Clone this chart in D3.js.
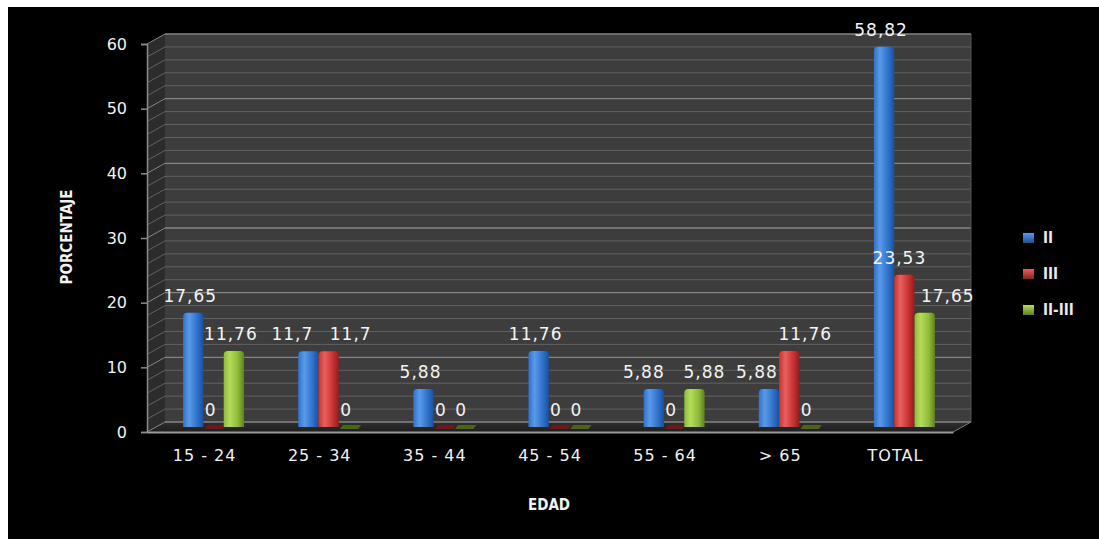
<!DOCTYPE html>
<html>
<head>
<meta charset="utf-8">
<script src="https://cdn.jsdelivr.net/npm/d3@7"></script>
<style>
  html, body { margin: 0; padding: 0; background: #ffffff; }
  svg { display: block; }
</style>
</head>
<body>
<svg id="chart" width="1099" height="539"></svg>
<script>
// Age groups and percentage per stage
const categories = ["15 - 24", "25 - 34", "35 - 44", "45 - 54", "55 - 64", "> 65", "TOTAL"];
const seriesNames = ["II", "III", "II-III"];
const valuesII    = [17.65, 11.7, 5.88, 11.76, 5.88, 5.88, 58.82];
const valuesIII   = [0, 11.7, 0, 0, 0, 11.76, 23.53];
const valuesIIIII = [11.76, 0, 0, 0, 5.88, 0, 17.65];
const yTicks = [0, 10, 20, 30, 40, 50, 60];
const xTitle = "EDAD";
const yTitle = "PORCENTAJE";

const series = [valuesII, valuesIII, valuesIIIII];
const colors = [
  { light: "#5a9ae8", mid: "#2f72cc", dark: "#1c4f99", flat: "#1c3f70" },
  { light: "#e86060", mid: "#c83232", dark: "#8e1e1e", flat: "#6a1818" },
  { light: "#b4dc5a", mid: "#8fbb38", dark: "#5e8020", flat: "#4a6418" }
];

const svg = d3.select("#chart");
const W = 1099, H = 539;

// black canvas inside a thin white margin
svg.append("rect").attr("x", 8).attr("y", 7).attr("width", W - 8).attr("height", H - 7).attr("fill", "#000");

// 3D plot geometry: front plane and the depth offset to the back wall
const front = { left: 147, right: 953, top: 44, bottom: 432 };
const depth = { dx: 18, dy: -10 };

const y = d3.scaleLinear().domain([0, 60]).range([front.bottom, front.top]);
const x = d3.scaleBand().domain(categories).range([front.left, front.right]);
const xs = d3.scaleBand().domain(d3.range(series.length)).range([0, 61]);

const defs = svg.append("defs");
colors.forEach((c, i) => {
  const g = defs.append("linearGradient").attr("id", "bar" + i).attr("x1", "0").attr("x2", "1").attr("y1", "0").attr("y2", "0");
  g.append("stop").attr("offset", "0%").attr("stop-color", c.mid);
  g.append("stop").attr("offset", "30%").attr("stop-color", c.light);
  g.append("stop").attr("offset", "70%").attr("stop-color", c.mid);
  g.append("stop").attr("offset", "100%").attr("stop-color", c.dark);
  const s = defs.append("linearGradient").attr("id", "sw" + i).attr("x1", "0").attr("x2", "0").attr("y1", "0").attr("y2", "1");
  s.append("stop").attr("offset", "0%").attr("stop-color", c.light);
  s.append("stop").attr("offset", "100%").attr("stop-color", c.dark);
});
const floorGrad = defs.append("linearGradient").attr("id", "floor").attr("x1", "0").attr("x2", "0").attr("y1", "0").attr("y2", "1");
floorGrad.append("stop").attr("offset", "0%").attr("stop-color", "#2e2e2e");
floorGrad.append("stop").attr("offset", "100%").attr("stop-color", "#1e1e1e");

const bx = (v) => v + depth.dx;
const by = (v) => v + depth.dy;

// back wall
svg.append("rect")
  .attr("x", bx(front.left)).attr("y", by(front.top))
  .attr("width", front.right - front.left).attr("height", front.bottom - front.top)
  .attr("fill", "#3d3d3d");

// side wall
svg.append("path")
  .attr("d", `M${front.left},${front.top} L${bx(front.left)},${by(front.top)} L${bx(front.left)},${by(front.bottom)} L${front.left},${front.bottom} Z`)
  .attr("fill", "#2c2c2c");

// floor
svg.append("path")
  .attr("d", `M${front.left},${front.bottom} L${bx(front.left)},${by(front.bottom)} L${bx(front.right)},${by(front.bottom)} L${front.right},${front.bottom} Z`)
  .attr("fill", "url(#floor)");

// gridlines every 2 units, brighter on the major ticks
const gridVals = d3.range(0, 61, 2);
const grid = svg.append("g");
gridVals.forEach(v => {
  const major = v % 10 === 0;
  const col = major ? "#858585" : "#626262";
  grid.append("line")
    .attr("x1", bx(front.left)).attr("x2", bx(front.right))
    .attr("y1", by(y(v))).attr("y2", by(y(v)))
    .attr("stroke", col).attr("stroke-width", major ? 1.4 : 1);
  grid.append("line")
    .attr("x1", front.left).attr("x2", bx(front.left))
    .attr("y1", y(v)).attr("y2", by(y(v)))
    .attr("stroke", col).attr("stroke-width", 1);
});
// right edge of the back wall and floor
grid.append("line").attr("x1", bx(front.right)).attr("x2", bx(front.right))
  .attr("y1", by(front.top)).attr("y2", by(front.bottom)).attr("stroke", "#555").attr("stroke-width", 1);
grid.append("line").attr("x1", front.right).attr("x2", bx(front.right))
  .attr("y1", front.bottom).attr("y2", by(front.bottom)).attr("stroke", "#7a7a7a").attr("stroke-width", 1);

// value axis
const yAxis = d3.axisLeft(y).tickValues(yTicks).tickSize(6).tickPadding(14).tickFormat(d3.format("d"));
const ya = svg.append("g").attr("transform", `translate(${front.left},0)`).call(yAxis);
ya.select(".domain").attr("stroke", "#8c8c8c").attr("stroke-width", 1.5);
ya.selectAll(".tick line").attr("stroke", "#8c8c8c").attr("stroke-width", 1.5);
ya.selectAll(".tick text").attr("fill", "#f2f2f2").attr("font-family", "DejaVu Sans, sans-serif").attr("font-size", 16);

// category axis
const xAxis = d3.axisBottom(x).tickSize(0).tickPadding(18);
const xa = svg.append("g").attr("transform", `translate(0,${front.bottom})`).call(xAxis);
xa.select(".domain").attr("stroke", "#9a9a9a").attr("stroke-width", 2);
xa.selectAll(".tick text").attr("fill", "#f2f2f2").attr("font-family", "DejaVu Sans, sans-serif")
  .attr("font-size", 16).attr("letter-spacing", 1);

// bars sit halfway into the depth
const bar0 = y(0) + depth.dy / 2;
const barShift = depth.dx / 2;
const groupOffset = (x.bandwidth() - 61) / 2;
const barX = (ci, si) => x(categories[ci]) + groupOffset + xs(si) + barShift;
const barTop = (v) => y(v) + depth.dy / 2;

// horizontal nudges that keep neighbouring value labels apart
const labelNudge = {
  "1-0": -16, "1-1": 22,
  "4-0": -10, "4-2": 10,
  "5-0": -12, "5-1": 16,
  "6-0": -3, "6-1": -5, "6-2": 23
};

const bars = svg.append("g");
const labels = svg.append("g");
const fmt = (v) => String(v).replace(".", ",");

categories.forEach((cat, ci) => {
  series.forEach((vals, si) => {
    const v = vals[ci];
    const x0 = barX(ci, si);
    const w = xs.bandwidth();
    if (v > 0) {
      const t = barTop(v), r = 4;
      bars.append("path")
        .attr("d", `M${x0},${bar0} L${x0},${t + r} Q${x0},${t} ${x0 + r},${t} L${x0 + w - r},${t} Q${x0 + w},${t} ${x0 + w},${t + r} L${x0 + w},${bar0} Z`)
        .attr("fill", `url(#bar${si})`);
    } else {
      bars.append("path")
        .attr("d", `M${x0 + 1},${bar0 + 2} L${x0 + 4},${bar0 - 2} L${x0 + w + 2},${bar0 - 2} L${x0 + w - 1},${bar0 + 2} Z`)
        .attr("fill", colors[si].flat);
    }
    const nudge = labelNudge[ci + "-" + si] || -3;
    labels.append("text")
      .attr("x", x0 + w / 2 + nudge)
      .attr("y", barTop(v) - 17)
      .attr("dy", "0.36em")
      .attr("text-anchor", "middle")
      .attr("fill", "#f4f4f4")
      .attr("font-family", "DejaVu Sans, sans-serif")
      .attr("font-size", 17)
      .attr("letter-spacing", 1)
      .text(fmt(v));
  });
});

// axis titles
svg.append("text")
  .attr("x", 549).attr("y", 505)
  .attr("dy", "0.36em").attr("text-anchor", "middle")
  .attr("fill", "#f2f2f2").attr("font-family", "DejaVu Sans Condensed, DejaVu Sans, sans-serif")
  .attr("font-weight", "bold").attr("font-size", 15)
  .text(xTitle);

svg.append("text")
  .attr("transform", "translate(67,237) rotate(-90)")
  .attr("dy", "0.36em").attr("text-anchor", "middle")
  .attr("fill", "#f2f2f2").attr("font-family", "DejaVu Sans Condensed, DejaVu Sans, sans-serif")
  .attr("font-weight", "bold").attr("font-size", 15)
  .text(yTitle);

// legend
const legend = svg.append("g").attr("transform", "translate(1023,238)");
seriesNames.forEach((name, i) => {
  const g = legend.append("g").attr("transform", `translate(0,${i * 36})`);
  g.append("rect").attr("x", 0).attr("y", -5).attr("width", 11).attr("height", 10).attr("fill", `url(#sw${i})`);
  g.append("text").attr("x", 20).attr("y", 0).attr("dy", "0.36em")
    .attr("fill", "#e8e8e8").attr("font-family", "DejaVu Sans Condensed, DejaVu Sans, sans-serif")
    .attr("font-weight", "bold").attr("font-size", 15)
    .text(name);
});
</script>
</body>
</html>
